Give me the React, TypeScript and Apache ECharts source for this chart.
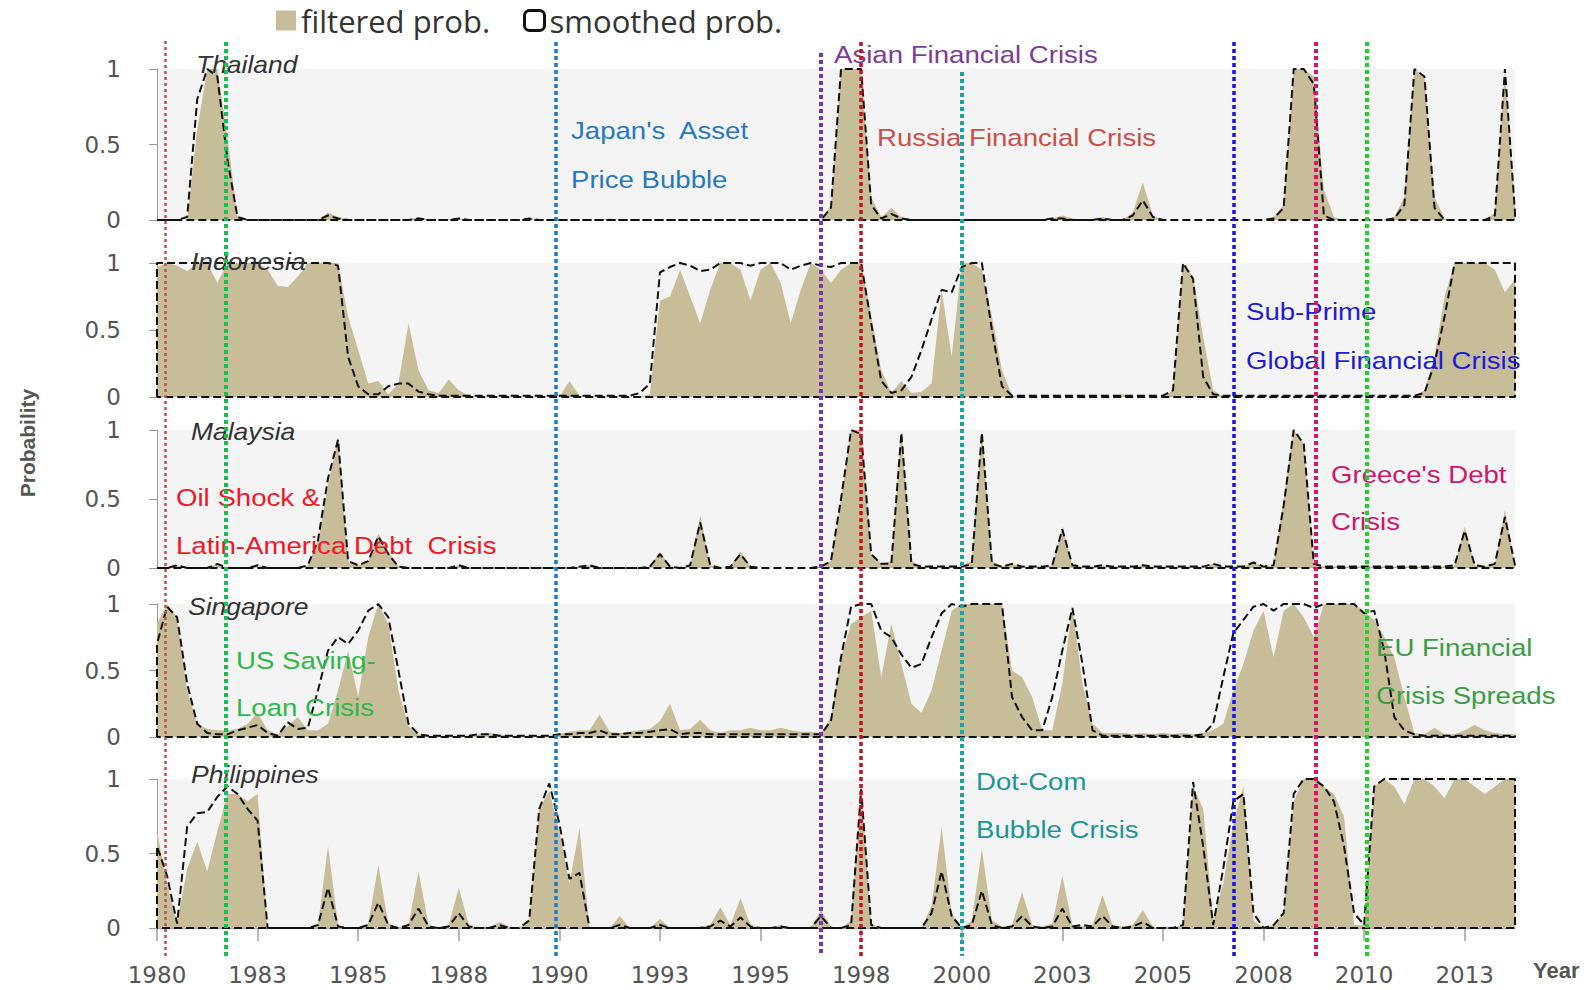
import React, { useEffect, useRef } from 'react';
import * as echarts from 'echarts';

// ---------------- data ----------------
const X_MIN = 1980;
const X_MAX = 2013.75;
// quarterly observations 1980Q1 .. 2013Q4
const quarters: number[] = Array.from({ length: 136 }, (_, i) => 1980 + i / 4);

const xTickValues = [1980, 1982.5, 1985, 1987.5, 1990, 1992.5, 1995, 1997.5, 2000, 2002.5, 2005, 2007.5, 2010, 2012.5];
const xTickLabels = ['1980', '1983', '1985', '1988', '1990', '1993', '1995', '1998', '2000', '2003', '2005', '2008', '2010', '2013'];

const countryNames = ['Thailand', 'Indonesia', 'Malaysia', 'Singapore', 'Philippines'];

const thailandFiltered = [
  0, 0, 0, 0, 0.6, 1, 1, 0.55, 0.02, 0, 0, 0, 0, 0, 0, 0, 0, 0.05, 0.02, 0,
  0, 0, 0, 0, 0, 0, 0.02, 0, 0, 0, 0.01, 0, 0, 0, 0, 0, 0, 0.01, 0, 0,
  0, 0, 0, 0, 0, 0.01, 0, 0, 0, 0, 0, 0, 0, 0, 0, 0, 0, 0, 0, 0,
  0, 0, 0, 0, 0, 0, 0, 0.1, 1, 1, 1, 0.15, 0.02, 0.08, 0.02, 0, 0, 0, 0, 0,
  0, 0, 0, 0, 0, 0, 0, 0, 0, 0.01, 0.03, 0.01, 0, 0, 0.02, 0, 0, 0.05, 0.25, 0.03,
  0, 0, 0, 0, 0, 0, 0, 0, 0, 0, 0, 0.02, 0.1, 1, 1, 0.95, 0.2, 0.02, 0, 0,
  0, 0, 0, 0.02, 0.15, 1, 0.95, 0.15, 0.01, 0, 0, 0, 0, 0.05, 1, 0.1,
];
const thailandSmoothed = [
  0, 0, 0, 0.02, 0.8, 1, 0.95, 0.4, 0.02, 0, 0, 0, 0, 0, 0, 0, 0, 0.03, 0.01, 0,
  0, 0, 0, 0, 0, 0, 0.01, 0, 0, 0, 0.01, 0, 0, 0, 0, 0, 0, 0.01, 0, 0,
  0, 0, 0, 0, 0, 0, 0, 0, 0, 0, 0, 0, 0, 0, 0, 0, 0, 0, 0, 0,
  0, 0, 0, 0, 0, 0, 0, 0.08, 1, 1, 1, 0.1, 0.01, 0.04, 0.01, 0, 0, 0, 0, 0,
  0, 0, 0, 0, 0, 0, 0, 0, 0, 0.01, 0.01, 0, 0, 0, 0.01, 0, 0, 0.03, 0.13, 0.02,
  0, 0, 0, 0, 0, 0, 0, 0, 0, 0, 0, 0.01, 0.08, 1, 1, 0.9, 0.03, 0, 0, 0,
  0, 0, 0, 0.01, 0.1, 1, 0.95, 0.08, 0, 0, 0, 0, 0, 0.03, 1, 0.05,
];

const indonesiaFiltered = [
  0.97, 1, 0.98, 0.94, 1, 1, 0.85, 1, 1, 1, 1, 0.95, 0.83, 0.82, 0.9, 1, 1, 1, 1, 0.6,
  0.35, 0.1, 0.12, 0.02, 0.1, 0.55, 0.2, 0.05, 0.03, 0.13, 0.05, 0.01, 0, 0, 0, 0, 0, 0, 0, 0,
  0, 0.12, 0.01, 0, 0, 0, 0, 0, 0, 0.02, 0.72, 0.75, 0.95, 0.75, 0.55, 0.8, 1, 1, 0.95, 0.72,
  0.95, 1, 0.85, 0.55, 0.8, 1, 0.95, 0.85, 0.95, 1, 1, 0.6, 0.2, 0.03, 0.12, 0.03, 0.04, 0.1, 0.8, 0.3,
  1, 1, 0.95, 0.6, 0.2, 0.01, 0, 0, 0, 0, 0, 0, 0, 0, 0, 0, 0.02, 0, 0, 0,
  0, 0.05, 1, 0.9, 0.45, 0.05, 0, 0, 0, 0, 0, 0, 0, 0, 0, 0, 0, 0, 0, 0,
  0, 0, 0, 0, 0, 0, 0.05, 0.3, 0.75, 1, 1, 1, 1, 0.95, 0.78, 0.88,
];
const indonesiaSmoothed = [
  1, 1, 1, 1, 1, 1, 1, 1, 1, 1, 1, 1, 1, 1, 1, 1, 1, 1, 0.98, 0.3,
  0.08, 0.02, 0.02, 0.08, 0.1, 0.1, 0.04, 0.02, 0.01, 0.01, 0.01, 0.01, 0.01, 0.01, 0.01, 0.01, 0.01, 0.01, 0.01, 0.01,
  0.01, 0.01, 0.01, 0.01, 0.01, 0.01, 0.01, 0.01, 0.03, 0.1, 0.93, 0.97, 1, 0.98, 0.94, 0.95, 1, 1, 1, 0.98,
  1, 1, 1, 0.95, 0.98, 1, 0.98, 0.97, 1, 1, 1, 0.55, 0.12, 0.03, 0.05, 0.15, 0.35, 0.58, 0.8, 0.78,
  0.97, 1, 1, 0.5, 0.08, 0.01, 0.01, 0.01, 0.01, 0.01, 0.01, 0.01, 0.01, 0.01, 0.01, 0.01, 0.01, 0.01, 0.01, 0.01,
  0.01, 0.05, 1, 0.88, 0.15, 0.02, 0.01, 0.01, 0.01, 0.01, 0.01, 0.01, 0.01, 0.01, 0.01, 0.01, 0.01, 0.01, 0.01, 0.01,
  0.01, 0.01, 0.01, 0.01, 0.01, 0.01, 0.03, 0.25, 0.6, 1, 1, 1, 1, 1, 1, 1,
];

const malaysiaFiltered = [
  0, 0, 0.02, 0, 0, 0, 0.03, 0, 0, 0, 0.02, 0, 0, 0, 0, 0.02, 0.2, 0.6, 0.95, 0.05,
  0.02, 0.05, 0.25, 0.12, 0.01, 0, 0, 0, 0, 0, 0.02, 0, 0, 0, 0, 0, 0, 0, 0, 0,
  0, 0, 0.01, 0.02, 0, 0, 0, 0, 0, 0.01, 0.12, 0.01, 0, 0.02, 0.38, 0.02, 0, 0.01, 0.12, 0.01,
  0, 0, 0, 0, 0, 0, 0.01, 0.05, 0.5, 1, 1, 0.1, 0.03, 0.05, 1, 0.05, 0.01, 0.01, 0.01, 0.01,
  0.01, 0.05, 1, 0.05, 0.01, 0.03, 0.01, 0.01, 0.01, 0.02, 0.3, 0.02, 0.01, 0.01, 0.02, 0.01, 0.01, 0.01, 0.02, 0.01,
  0.01, 0.01, 0.01, 0.01, 0.01, 0.03, 0.01, 0.01, 0.01, 0.04, 0.01, 0.02, 0.5, 1, 0.9, 0.03, 0.01, 0.01, 0.01, 0.01,
  0.01, 0.01, 0.01, 0.01, 0.01, 0.01, 0.01, 0.01, 0.01, 0.02, 0.3, 0.02, 0.01, 0.03, 0.42, 0.02,
];
const malaysiaSmoothed = [
  0, 0, 0.02, 0, 0, 0, 0.03, 0, 0, 0, 0.02, 0, 0, 0, 0, 0.02, 0.2, 0.65, 0.93, 0.05,
  0.02, 0.05, 0.23, 0.1, 0.01, 0, 0, 0, 0, 0, 0.02, 0, 0, 0, 0, 0, 0, 0, 0, 0,
  0, 0, 0.01, 0.02, 0, 0, 0, 0, 0, 0.01, 0.1, 0.01, 0, 0.02, 0.33, 0.02, 0, 0.01, 0.1, 0.01,
  0, 0, 0, 0, 0, 0, 0.01, 0.05, 0.5, 1, 0.97, 0.1, 0.03, 0.03, 0.98, 0.03, 0.01, 0.01, 0.01, 0.01,
  0.01, 0.03, 0.98, 0.03, 0.01, 0.03, 0.01, 0.01, 0.01, 0.02, 0.28, 0.02, 0.01, 0.01, 0.02, 0.01, 0.01, 0.01, 0.02, 0.01,
  0.01, 0.01, 0.01, 0.01, 0.01, 0.03, 0.01, 0.01, 0.01, 0.04, 0.01, 0.02, 0.45, 1, 0.9, 0.03, 0.01, 0.01, 0.01, 0.01,
  0.01, 0.01, 0.01, 0.01, 0.01, 0.01, 0.01, 0.01, 0.01, 0.02, 0.27, 0.02, 0.01, 0.03, 0.37, 0.02,
];

const singaporeFiltered = [
  0.85, 1, 0.9, 0.35, 0.1, 0.06, 0.05, 0.05, 0.06, 0.1, 0.18, 0.05, 0.02, 0.08, 0.15, 0.05, 0.05, 0.1, 0.35, 0.65,
  0.3, 0.75, 1, 0.85, 0.35, 0.08, 0.02, 0.01, 0.01, 0.01, 0.01, 0.01, 0.02, 0.03, 0.02, 0.01, 0.01, 0.01, 0.01, 0.01,
  0.02, 0.04, 0.05, 0.05, 0.17, 0.04, 0.03, 0.04, 0.05, 0.06, 0.12, 0.25, 0.05, 0.06, 0.13, 0.05, 0.03, 0.05, 0.05, 0.07,
  0.05, 0.05, 0.07, 0.05, 0.04, 0.04, 0.03, 0.15, 0.6, 0.85, 0.9, 0.95, 0.45, 0.85, 0.55, 0.25, 0.18, 0.35, 0.65, 0.95,
  1, 1, 1, 1, 1, 0.5, 0.45, 0.3, 0.05, 0.05, 0.4, 0.98, 0.4, 0.1, 0.03, 0.03, 0.03, 0.02, 0.03, 0.02,
  0.03, 0.02, 0.03, 0.02, 0.03, 0.05, 0.1, 0.35, 0.55, 0.8, 0.95, 0.6, 0.95, 1, 0.9, 0.75, 1, 1, 1, 1,
  0.95, 0.88, 0.75, 0.6, 0.3, 0.03, 0.02, 0.07, 0.02, 0.02, 0.05, 0.09, 0.05, 0.03, 0.02, 0.02,
];
const singaporeSmoothed = [
  0.7, 0.98, 0.9, 0.4, 0.1, 0.03, 0.02, 0.02, 0.05, 0.07, 0.09, 0.03, 0.01, 0.11, 0.06, 0.07, 0.35, 0.65, 0.75, 0.7,
  0.8, 0.95, 1, 0.9, 0.5, 0.1, 0.02, 0.01, 0.01, 0.01, 0.01, 0.01, 0.02, 0.02, 0.01, 0.01, 0.01, 0.01, 0.01, 0.01,
  0.02, 0.02, 0.03, 0.03, 0.05, 0.02, 0.02, 0.03, 0.03, 0.04, 0.05, 0.06, 0.02, 0.03, 0.03, 0.02, 0.02, 0.02, 0.02, 0.02,
  0.02, 0.02, 0.02, 0.02, 0.02, 0.02, 0.02, 0.12, 0.6, 0.98, 1, 1, 0.8, 0.75, 0.62, 0.52, 0.55, 0.75, 0.93, 1,
  0.98, 1, 1, 1, 1, 0.3, 0.15, 0.05, 0.05, 0.3, 0.65, 0.97, 0.55, 0.05, 0.01, 0.01, 0.01, 0.01, 0.01, 0.01,
  0.01, 0.01, 0.01, 0.01, 0.02, 0.1, 0.45, 0.78, 0.88, 0.98, 1, 0.95, 1, 1, 1, 0.97, 1, 1, 1, 1,
  0.93, 0.95, 0.65, 0.15, 0.05, 0.02, 0.01, 0.01, 0.01, 0.01, 0.01, 0.01, 0.01, 0.01, 0.01, 0.01,
];

const philippinesFiltered = [
  0.65, 0.3, 0.03, 0.4, 0.58, 0.38, 0.65, 0.9, 0.9, 0.85, 0.9, 0, 0, 0, 0, 0, 0.02, 0.55, 0.02, 0,
  0, 0.03, 0.42, 0.03, 0, 0.02, 0.38, 0.02, 0, 0.02, 0.27, 0.02, 0, 0, 0.04, 0.01, 0, 0.05, 0.8, 0.92,
  0.65, 0.3, 0.67, 0, 0, 0, 0.08, 0, 0, 0, 0.06, 0, 0, 0, 0.01, 0.02, 0.14, 0.02, 0.2, 0.02,
  0, 0, 0.02, 0, 0, 0, 0.12, 0.01, 0, 0.05, 0.95, 0.03, 0, 0, 0, 0, 0, 0.15, 0.68, 0.1,
  0, 0.05, 0.53, 0.05, 0.01, 0.02, 0.24, 0.02, 0.01, 0.03, 0.35, 0.02, 0.01, 0.02, 0.22, 0.02, 0.01, 0.02, 0.12, 0.01,
  0, 0, 0.02, 0.95, 0.8, 0.05, 0.3, 0.7, 0.95, 0.05, 0, 0.02, 0.1, 0.85, 1, 1, 0.95, 0.9, 0.75, 0.02,
  0.02, 0.95, 1, 0.95, 0.83, 1, 1, 0.95, 0.87, 1, 1, 0.95, 0.9, 0.95, 1, 1,
];
const philippinesSmoothed = [
  0.55, 0.35, 0.03, 0.68, 0.77, 0.78, 0.88, 0.95, 0.9, 0.8, 0.72, 0, 0, 0, 0, 0, 0.02, 0.27, 0.01, 0,
  0, 0.02, 0.17, 0.02, 0, 0.02, 0.13, 0.01, 0, 0.01, 0.1, 0.01, 0, 0, 0.02, 0, 0, 0.05, 0.8, 0.97,
  0.7, 0.33, 0.37, 0, 0, 0, 0.02, 0, 0, 0, 0.02, 0, 0, 0, 0, 0.01, 0.05, 0.01, 0.07, 0.01,
  0, 0, 0.01, 0, 0, 0, 0.08, 0, 0, 0.02, 0.93, 0.02, 0, 0, 0, 0, 0, 0.1, 0.38, 0.08,
  0, 0.02, 0.25, 0.02, 0, 0.01, 0.08, 0.01, 0, 0.01, 0.13, 0.01, 0.02, 0.01, 0.08, 0.01, 0, 0.01, 0.04, 0,
  0, 0, 0.02, 0.98, 0.55, 0.02, 0.4, 0.85, 0.9, 0.1, 0, 0.02, 0.1, 0.9, 1, 1, 0.95, 0.85, 0.55, 0.1,
  0.02, 0.95, 1, 1, 1, 1, 1, 1, 1, 1, 1, 1, 1, 1, 1, 1,
];

const filteredByCountry = [thailandFiltered, indonesiaFiltered, malaysiaFiltered, singaporeFiltered, philippinesFiltered];
const smoothedByCountry = [thailandSmoothed, indonesiaSmoothed, malaysiaSmoothed, singaporeSmoothed, philippinesSmoothed];

// crisis dates (vertical dotted lines)
const crisisYears = [1980.2, 1981.7, 1989.92, 1996.5, 1997.5, 2000, 2006.75, 2008.8, 2010.07];
const crisisColors = ['#c0504d', '#16c050', '#1f7ac4', '#7b35a8', '#c8101a', '#1aa3a3', '#1414e6', '#d81466', '#22d02c'];

// annotation texts
const annotationTexts = [
  'Asian Financial Crisis', "Japan's  Asset", 'Price Bubble', 'Russia Financial Crisis',
  'Sub-Prime', 'Global Financial Crisis', 'Oil Shock &', 'Latin-America Debt  Crisis',
  "Greece's Debt", 'Crisis', 'US Saving-', 'Loan Crisis', 'EU Financial', 'Crisis Spreads',
  'Dot-Com', 'Bubble Crisis',
];
const annotationColors = [
  '#7d3c98', '#2878c0', '#2878c0', '#c8504a',
  '#1c1cd8', '#1c1cd8', '#f01828', '#f01828',
  '#d0176b', '#d0176b', '#2db84c', '#2db84c', '#3c9c46', '#3c9c46',
  '#1e9696', '#1e9696',
];

// ---------------- layout / style ----------------
const GRID_LEFT = 157;
const GRID_WIDTH = 1358;
const panelTops = [69, 263, 430, 604, 779];
const panelHeights = [151, 134, 138, 133, 149];
const OVERLAY_TOP = 41;
const OVERLAY_HEIGHT = 915;
const crisisWidths = [2.5, 4, 3.5, 4, 3.5, 4, 3.5, 4, 4];
// fraction of the overlay height where a line starts (1 = top of overlay)
const crisisTopFraction = [1, 1, 1, 0.987, 1, 0.966, 1, 1, 1];
const annotationPos = [
  [834, 55], [571, 131], [571, 180], [877, 138],
  [1246, 312], [1246, 361], [176, 498], [176, 546],
  [1331, 475], [1331, 522], [236, 661], [236, 708], [1376, 648], [1376, 696],
  [976, 782], [976, 830],
];
const countryLabelPos = [[196, 65], [191, 262], [191, 432], [188, 607], [191, 775]];
const TAN = '#c8bd99';

const fmtX = (v: number) => {
  const k = xTickValues.indexOf(v);
  return k >= 0 ? xTickLabels[k] : '';
};

function buildOption() {
  const grids: any[] = panelTops.map((top, i) => ({
    left: GRID_LEFT, width: GRID_WIDTH, top, height: panelHeights[i],
    show: true, backgroundColor: '#f4f4f4', borderWidth: 0,
  }));
  grids.push({ left: GRID_LEFT, width: GRID_WIDTH, top: OVERLAY_TOP, height: OVERLAY_HEIGHT, show: false });

  const xAxes: any[] = countryNames.map((_, i) => ({
    type: 'value', gridIndex: i, min: X_MIN, max: X_MAX, interval: 2.5,
    axisLine: { show: i === 4, onZero: false, lineStyle: { color: '#8a8a8a', width: 1.5 } },
    axisTick: { show: i === 4, customValues: xTickValues, length: 13, lineStyle: { color: '#a0a0a0', width: 1.5 } },
    axisLabel: {
      show: i === 4, customValues: xTickValues, formatter: fmtX, margin: 35,
      color: '#555', fontSize: 23, lineHeight: 24, fontFamily: 'DejaVu Sans',
    },
    splitLine: { show: false },
  }));
  xAxes.push({ type: 'value', gridIndex: 5, min: X_MIN, max: X_MAX, show: false });

  const yAxes: any[] = countryNames.map((_, i) => ({
    type: 'value', gridIndex: i, min: 0, max: 1, interval: 0.5,
    axisLine: { show: true, lineStyle: { color: '#9a9a9a', width: 1 } },
    axisTick: { show: true, length: 8, lineStyle: { color: '#9a9a9a' } },
    axisLabel: { color: '#555', fontSize: 23, margin: 36, fontFamily: 'DejaVu Sans' },
    splitLine: { show: false },
  }));
  yAxes.push({ type: 'value', gridIndex: 5, min: 0, max: 1, show: false });

  const series: any[] = [];
  countryNames.forEach((_, i) => {
    series.push({
      type: 'line', name: 'filtered prob.', xAxisIndex: i, yAxisIndex: i,
      data: quarters.map((q, k) => [q, filteredByCountry[i][k]]),
      symbol: 'none', showSymbol: false, silent: true,
      color: TAN,
      lineStyle: { width: 0, color: TAN },
      areaStyle: { color: TAN, opacity: 1 },
      z: 2,
    });
    series.push({
      type: 'line', name: 'smoothed prob.', xAxisIndex: i, yAxisIndex: i,
      data: [[X_MIN, 0], ...quarters.map((q, k) => [q, smoothedByCountry[i][k]]), [X_MAX, 0], [X_MIN, 0]],
      symbol: 'none', showSymbol: false, silent: true, clip: false,
      color: '#111',
      lineStyle: { width: 2, color: '#111', type: [8, 4] },
      z: 3,
    });
  });

  series.push({
    type: 'line', xAxisIndex: 5, yAxisIndex: 5, data: [], silent: true, z: 10,
    markLine: {
      silent: true, z: 10, symbol: ['none', 'none'], label: { show: false }, animation: false,
      data: crisisYears.map((yr, k) => {
        const ls = { color: crisisColors[k], width: crisisWidths[k], type: k === 0 ? [3, 3] : [4, 3] };
        if (crisisTopFraction[k] < 1) {
          return [{ coord: [yr, crisisTopFraction[k]], lineStyle: ls }, { coord: [yr, 0] }];
        }
        return { xAxis: yr, lineStyle: ls };
      }),
    },
  });

  const graphics: any[] = [];
  annotationTexts.forEach((t, k) => {
    graphics.push({
      type: 'text', x: annotationPos[k][0], y: annotationPos[k][1], scaleX: 1.15, z: 6, silent: true,
      style: { text: t, fill: annotationColors[k], fontSize: 24, fontFamily: 'Liberation Sans', align: 'left', verticalAlign: 'middle' },
    });
  });
  countryNames.forEach((n, i) => {
    graphics.push({
      type: 'text', x: countryLabelPos[i][0], y: countryLabelPos[i][1], scaleX: 1.15, z: 6, silent: true,
      style: { text: n, fill: '#333', fontSize: 23, fontStyle: 'italic', fontFamily: 'Liberation Sans', align: 'left', verticalAlign: 'middle' },
    });
  });
  graphics.push({
    type: 'text', x: 27, y: 443, rotation: Math.PI / 2, z: 6, silent: true,
    style: { text: 'Probability', fill: '#555', fontSize: 21, fontWeight: 'bold', fontFamily: 'Liberation Sans', align: 'center', verticalAlign: 'middle' },
  });
  graphics.push({
    type: 'text', x: 1533, y: 970, z: 6, silent: true,
    style: { text: 'Year', fill: '#555', fontSize: 22, fontWeight: 'bold', fontFamily: 'Liberation Sans', align: 'left', verticalAlign: 'middle' },
  });

  return {
    animation: false,
    backgroundColor: '#ffffff',
    legend: {
      left: 271, top: 0, itemWidth: 20, itemHeight: 20, itemGap: 33, selectedMode: false,
      textStyle: { fontSize: 31, color: '#333', fontFamily: 'Open Sans' },
      data: [
        { name: 'filtered prob.', icon: 'rect', itemStyle: { color: TAN, borderWidth: 0 } },
        { name: 'smoothed prob.', icon: 'roundRect', itemStyle: { color: 'rgba(255,255,255,0)', borderColor: '#111', borderWidth: 3 } },
      ],
    },
    grid: grids,
    xAxis: xAxes,
    yAxis: yAxes,
    series,
    graphic: graphics,
  };
}

export default function App() {
  const ref = useRef<HTMLDivElement>(null);
  useEffect(() => {
    document.body.style.margin = '0';
    const chart = echarts.init(ref.current as HTMLDivElement, null, { renderer: 'svg' });
    chart.setOption(buildOption() as any);
    return () => chart.dispose();
  }, []);
  return <div ref={ref} style={{ width: 1587, height: 990, background: '#fff' }} />;
}
